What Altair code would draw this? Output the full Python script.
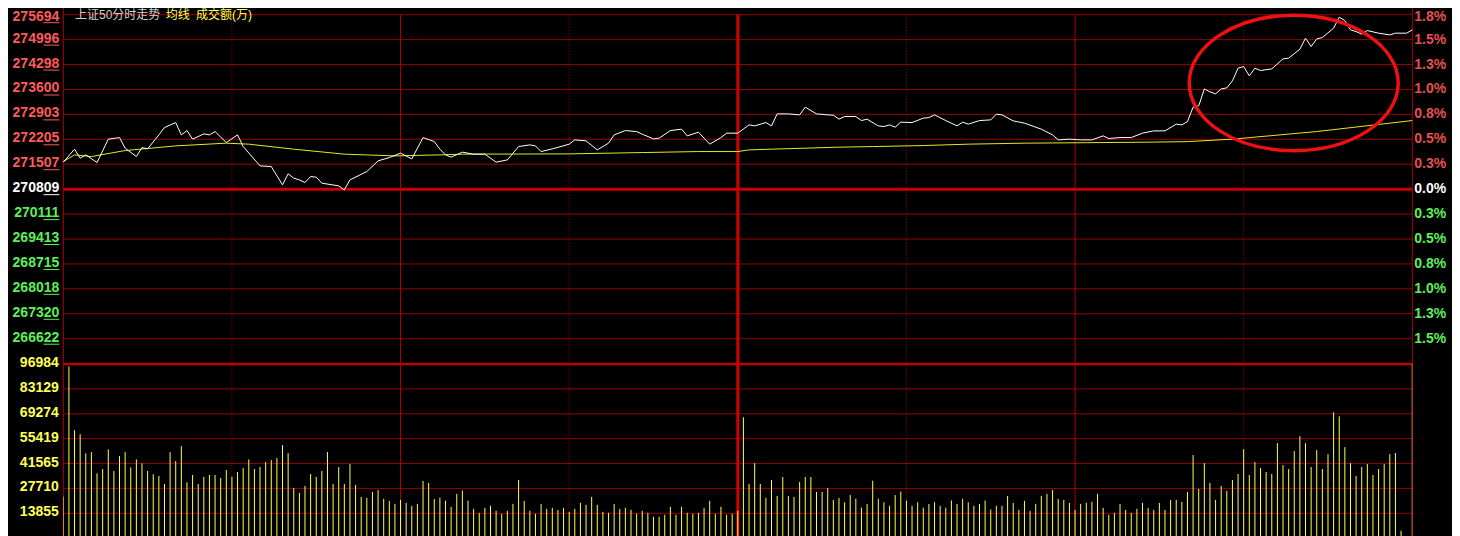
import altair as alt
import pandas as pd

PRE_CLOSE = 270809

# ---- price line (minute index, price) ----
price_min = [0, 2, 3, 4, 6, 8, 10, 11, 13, 14, 15, 17, 18, 20, 21, 22, 23, 25, 26, 27, 29, 31, 32, 35, 37, 39,
             40, 41, 42, 43, 44, 45, 46, 49, 50, 51, 54, 56, 58, 60, 62, 64, 66, 67, 68, 69, 71, 73, 75, 77,
             79, 81, 83, 84, 85, 87, 90, 91, 93, 95, 97, 98, 100, 102, 103, 105, 106, 108, 110, 111, 113,
             115, 117, 118, 120, 122, 123, 125, 126, 127, 129, 131, 132, 134, 136, 137, 138, 139, 141, 142,
             143, 145, 146, 147, 148, 149, 151, 153, 154, 155, 157, 159, 160, 161, 163, 165, 166, 167, 169,
             171, 174, 176, 177, 179, 181, 183, 185, 186, 188, 190, 192, 194, 196, 198, 199, 200, 201, 202,
             203, 204, 205, 206, 207, 208, 209, 210, 211, 212, 213, 215, 217, 218, 220, 221, 222, 223, 224,
             226, 227, 228, 229, 230, 231, 232, 234, 236, 237, 239, 240]
price_val = [271565, 271929, 271677, 271769, 271554, 272209, 272254, 271957, 271722, 271974, 271937, 272329,
             272534, 272674, 272329, 272450, 272209, 272357, 272329, 272422, 272114, 272329, 272002, 271461,
             271442, 270929, 271237, 271117, 271069, 270994, 271162, 271145, 270977, 270901, 270789, 271069,
             271302, 271601, 271694, 271817, 271657, 272254, 272142, 271929, 271769, 271705, 271845, 271789,
             271789, 271565, 271629, 272002, 272049, 272021, 271862, 271937, 272069, 272189, 272161, 271909,
             272097, 272329, 272450, 272422, 272349, 272217, 272237, 272450, 272489, 272301, 272405, 272069,
             272254, 272377, 272377, 272609, 272581, 272674, 272581, 272917, 272917, 272889, 273105, 272917,
             272889, 272880, 272769, 272842, 272842, 272730, 272769, 272581, 272562, 272609, 272545, 272685,
             272674, 272797, 272814, 272889, 272730, 272581, 272685, 272629, 272730, 272749, 272909, 272889,
             272721, 272657, 272489, 272329, 272189, 272209, 272189, 272189, 272301, 272226, 272254, 272254,
             272377, 272441, 272441, 272629, 272609, 272702, 273105, 273141, 273617, 273533, 273477, 273617,
             273645, 273841, 274197, 274242, 273981, 274197, 274130, 274177, 274457, 274477, 274729, 275037,
             274802, 275017, 275054, 275317, 275625, 275530, 275269, 275222, 275149, 275250, 275177, 275129,
             275177, 275177, 275269]

# ---- average line ----
avg_min = [0, 2, 5, 11, 20, 29, 33, 41, 50, 59, 67, 71, 90, 103, 113, 120, 122, 126, 138, 144, 153, 161,
           171, 182, 193, 200, 208, 223, 240]
avg_val = [271582, 271769, 271722, 271890, 272021, 272097, 272069, 271929, 271789, 271741, 271769, 271789,
           271797, 271834, 271862, 271862, 271909, 271929, 271985, 272002, 272030, 272069, 272097, 272110,
           272125, 272140, 272209, 272422, 272730]

# ---- turnover (万), one per minute 0..240 ----
volume = [23166, 95600, 60131, 57914, 47218, 47938, 36134, 38517, 49435, 37409,
          45722, 47938, 39459, 43893, 41676, 37409, 35580, 34638, 30204, 47938,
          42951, 51264, 31146, 35192, 30204, 34083, 35192, 35192, 33529, 37963,
          34250, 36854, 39071, 43893, 38517, 39625, 42396, 43505, 44613, 51818,
          47384, 27987, 25216, 29096, 35746, 34083, 37409, 47938, 30204, 39625,
          30204, 41288, 29650, 22999, 22445, 25770, 26879, 21891, 20783, 19120,
          21337, 19674, 18012, 19120, 31867, 30758, 21891, 22611, 20949, 17457,
          24662, 26491, 20949, 16349, 14132, 16903, 18012, 15241, 13578, 15241,
          19120, 32421, 20783, 15241, 13578, 19120, 16349, 16903, 15795, 16903,
          14686, 16349, 19674, 18566, 22999, 18566, 14686, 14132, 19120, 16349,
          16903, 15795, 13578, 15241, 14132, 11915, 11915, 13024, 17457, 13024,
          17457, 14132, 13578, 14132, 16903, 20783, 13578, 17457, 13024, 13578,
          15241, 67335, 30204, 41842, 30204, 22445, 32421, 23554, 34083, 23554,
          22999, 31312, 34083, 34083, 25770, 25770, 27987, 21337, 22445, 20000,
          24000, 22000, 17000, 19000, 32000, 22000, 20000, 18000, 24000, 26000,
          21000, 18000, 20000, 17000, 19000, 20000, 18000, 17000, 21000, 19000,
          22000, 20000, 18000, 19000, 21000, 16000, 18000, 18012, 23554, 19674,
          15795, 20783, 15241, 19120, 23554, 24662, 26879, 21891, 21337, 19674,
          15795, 19120, 19674, 20229, 24662, 16903, 13024, 14132, 19120, 15795,
          14132, 16349, 19674, 16903, 15795, 19674, 15795, 21337, 21337, 20229,
          25770, 46276, 27433, 41842, 30758, 21337, 29096, 26325, 32421, 35746,
          49601, 35192, 42396, 39071, 36854, 35746, 52926, 40734, 38517, 48493,
          56806, 52926, 39625, 49046, 38517, 46829, 70106, 67890, 50709, 41842,
          34638, 39625, 41288, 35192, 38517, 41288, 46829, 47384, 4157, 0,
          97000]

price_ticks = [275694, 274996, 274298, 273600, 272903, 272205, 271507, 270809,
               270111, 269413, 268715, 268018, 267320, 266622]
pct_labels = ["1.8%", "1.5%", "1.3%", "1.0%", "0.8%", "0.5%", "0.3%", "0.0%",
              "0.3%", "0.5%", "0.8%", "1.0%", "1.3%", "1.5%"]
vol_ticks = [96984, 83129, 69274, 55419, 41565, 27710, 13855]

time_lines = [30, 60, 90, 120, 150, 180, 210]
time_style = ["dot", "solid", "dot", "mid", "dot", "solid", "dot"]

# highlight ellipse (centre in data units)
ring_min = [218.9]
ring_price = [273782]

# ---------------- layout ----------------
W = 1349
H = 521.3
RED_TXT = "#ff5a5a"
GREEN_TXT = "#5cf05c"
GRID = "#9a0000"

x_sc = alt.Scale(domain=[0, 240], nice=False, zero=False)
p_sc = alt.Scale(domain=[261098, 275694], nice=False, zero=False)
v_sc = alt.Scale(domain=[1225, 291485], nice=False, zero=False)

def col_for(p):
    if p > PRE_CLOSE:
        return RED_TXT
    if p < PRE_CLOSE:
        return GREEN_TXT
    return "#ffffff"

price_df = pd.DataFrame({"m": price_min, "p": price_val})
avg_df = pd.DataFrame({"m": avg_min, "p": avg_val})
vol_df = pd.DataFrame({"m": list(range(len(volume))), "v": volume})
pt_df = pd.DataFrame({
    "p": price_ticks,
    "lab": [str(v) for v in price_ticks],
    "pct": pct_labels,
    "c": [col_for(v) for v in price_ticks],
    "c2": ["#e85050" if v > PRE_CLOSE else ("#ffffff" if v == PRE_CLOSE else GREEN_TXT) for v in price_ticks],
    "w": [3 if v == PRE_CLOSE else 1 for v in price_ticks],
    "gc": ["#c80000" if v == PRE_CLOSE else GRID for v in price_ticks],
    "top": [i == 0 for i in range(len(price_ticks))],
})
vt_df = pd.DataFrame({"v": vol_ticks, "lab": [str(v) for v in vol_ticks],
                      "w": [2.5 if v == vol_ticks[0] else 1 for v in vol_ticks],
                      "gc": ["#c00000" if v == vol_ticks[0] else GRID for v in vol_ticks]})
tl_df = pd.DataFrame({"m": time_lines, "s": time_style})
ring_df = pd.DataFrame({"m": ring_min, "p": ring_price})

X = lambda: alt.X("m:Q", scale=x_sc, axis=None)

# horizontal grid (price)
p_grid = alt.Chart(pt_df).mark_rule().encode(
    y=alt.Y("p:Q", scale=p_sc, axis=None),
    color=alt.Color("gc:N", scale=None),
    strokeWidth=alt.StrokeWidth("w:Q", scale=None),
)
# horizontal grid (volume)
v_grid = alt.Chart(vt_df).mark_rule().encode(
    y=alt.Y("v:Q", scale=v_sc, axis=None),
    color=alt.Color("gc:N", scale=None),
    strokeWidth=alt.StrokeWidth("w:Q", scale=None),
)
# vertical time lines
dot_lines = alt.Chart(tl_df).transform_filter("datum.s == 'dot'").mark_rule(
    color="#b00000", strokeWidth=1, strokeDash=[1, 2]).encode(x=X())
solid_lines = alt.Chart(tl_df).transform_filter("datum.s == 'solid'").mark_rule(
    color="#b00000", strokeWidth=1).encode(x=X())
mid_line = alt.Chart(tl_df).transform_filter("datum.s == 'mid'").mark_rule(
    color="#d00000", strokeWidth=3).encode(x=X())
border_df = pd.DataFrame({"m": [0, 240]})
borders = alt.Chart(border_df).mark_rule(color="#b00000", strokeWidth=1).encode(
    x=X(), y=alt.value(-7), y2=alt.value(H))

# volume bars
bars = alt.Chart(vol_df).transform_filter("datum.v > 0").mark_rule(
    color="#ffff48", strokeWidth=1, clip=True).encode(
    x=X(),
    y=alt.Y("v:Q", scale=v_sc, axis=None),
    y2=alt.datum(0),
)

avg_line = alt.Chart(avg_df).mark_line(color="#e8e820", strokeWidth=1).encode(
    x=X(), y=alt.Y("p:Q", scale=p_sc, axis=None))
price_line = alt.Chart(price_df).mark_line(color="#ffffff", strokeWidth=1).encode(
    x=X(), y=alt.Y("p:Q", scale=p_sc, axis=None))

ring = alt.Chart(ring_df).mark_point(
    shape="M -1 0 A 1 0.648 0 1 1 1 0 A 1 0.648 0 1 1 -1 0 Z",
    size=209 * 209, filled=False, stroke="#ee1111", strokeWidth=3.5, opacity=1,
).encode(x=X(), y=alt.Y("p:Q", scale=p_sc, axis=None))

LAB_FONT = "Liberation Sans"


def left_labels(flt, dy):
    return alt.Chart(pt_df).transform_filter(flt).mark_text(
        align="right", baseline="middle", font=LAB_FONT, fontSize=14, fontWeight="bold", dy=dy,
    ).encode(
        x=alt.value(-4), y=alt.Y("p:Q", scale=p_sc, axis=None),
        text="lab:N", color=alt.Color("c:N", scale=None))


def right_labels(flt, dy):
    return alt.Chart(pt_df).transform_filter(flt).mark_text(
        align="left", baseline="middle", font=LAB_FONT, fontSize=14, fontWeight="bold", dy=dy,
    ).encode(
        x=alt.value(W + 2), y=alt.Y("p:Q", scale=p_sc, axis=None),
        text="pct:N", color=alt.Color("c2:N", scale=None))


left_lab = left_labels("!datum.top", -1)
left_lab_top = left_labels("datum.top", 1.8)
right_lab = right_labels("!datum.top", 0)
right_lab_top = right_labels("datum.top", 1.8)

under = alt.Chart(pt_df).transform_filter("!datum.top").mark_rule(strokeWidth=1, yOffset=5.5).encode(
    x=alt.value(-19.8), x2=alt.value(-4),
    y=alt.Y("p:Q", scale=p_sc, axis=None),
    color=alt.Color("c:N", scale=None))
under_top = alt.Chart(pt_df).transform_filter("datum.top").mark_rule(strokeWidth=1, yOffset=8).encode(
    x=alt.value(-19.8), x2=alt.value(-4),
    y=alt.Y("p:Q", scale=p_sc, axis=None),
    color=alt.Color("c:N", scale=None))
vol_lab = alt.Chart(vt_df).mark_text(
    align="right", baseline="middle", font=LAB_FONT, fontSize=14, fontWeight="bold",
    color="#ffff55", dy=-1,
).encode(x=alt.value(-4.5), y=alt.Y("v:Q", scale=v_sc, axis=None), text="lab:N")

title_df = pd.DataFrame({"t": ["上证50分时走势", "均线", "成交额(万)"],
                         "c": ["#d0d0d0", "#ffff50", "#ffff50"],
                         "px": [11.7, 102.4, 132.7]})
titles = alt.Chart(title_df).mark_text(
    align="left", baseline="alphabetic",
    font="'Liberation Sans', 'Noto Sans CJK SC', sans-serif", fontSize=12,
).encode(x=alt.X("px:Q", scale=None), y=alt.value(4.6), text="t:N",
         color=alt.Color("c:N", scale=None))

chart = alt.layer(
    p_grid, v_grid, dot_lines, solid_lines, borders, mid_line,
    bars, avg_line, price_line, ring,
    left_lab, left_lab_top, under, under_top, right_lab, right_lab_top, vol_lab, titles,
).resolve_scale(y="independent").properties(
    width=W, height=H,
    autosize=alt.AutoSizeParams(type="none"),
    padding={"left": 55.3, "top": 6.7, "right": 39.7, "bottom": 0},
    background="#000000",
).configure_view(stroke=None)

chart.save("out.html", embed_options={"renderer": "svg", "actions": False})
